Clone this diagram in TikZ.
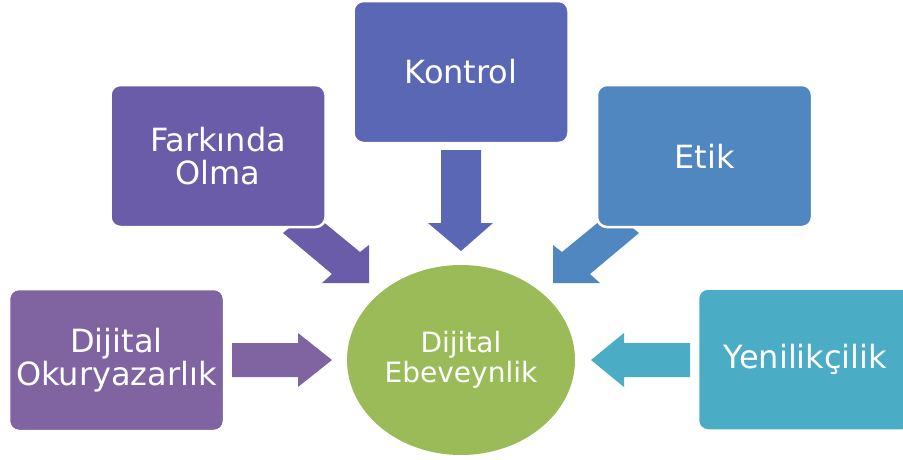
\documentclass[tikz,border=0pt]{standalone}
\usepackage{fontspec}
\setmainfont{DejaVu Sans}
\usetikzlibrary{shapes.geometric}
\definecolor{cOkur}{HTML}{8064A2}
\definecolor{cFark}{HTML}{6A5CA8}
\definecolor{cKont}{HTML}{5A67B4}
\definecolor{cEtik}{HTML}{5087C0}
\definecolor{cYeni}{HTML}{4BACC6}
\definecolor{cCore}{HTML}{9BBB59}
\begin{document}
\begin{tikzpicture}[x=1pt,y=-1pt,
  box/.style={rectangle, rounded corners=10pt, draw=white, line width=2.5pt,
    minimum width=215pt, minimum height=142pt, inner sep=0pt,
    text=white, align=center, font=\fontsize{32}{33}\selectfont},
  core/.style={ellipse, fill=cCore,
    minimum width=228pt, minimum height=190pt, inner sep=0pt,
    text=white, align=center, font=\fontsize{28}{30}\selectfont}]
\useasboundingbox (0,0) rectangle (903,459);

% block arrows (drawn first so the boxes sit on top of their tails)
\fill[cOkur] (232,343) -- (298,343) -- (298,333) -- (332,360) -- (298,387)
  -- (298,377) -- (232,377) -- cycle;
\fill[cYeni] (690,343) -- (624,343) -- (624,333) -- (591,360) -- (624,387)
  -- (624,377) -- (690,377) -- cycle;
\fill[cKont] (441,150) -- (481,150) -- (481,223) -- (493,223) -- (461,251)
  -- (428,223) -- (441,223) -- cycle;
\fill[cFark] (310,211) -- (360,252) -- (369,245) -- (369,283) -- (322,283)
  -- (332,274) -- (283,233) -- cycle;
\fill[cEtik] (612,211) -- (562,252) -- (553,245) -- (553,283) -- (600,283)
  -- (590,274) -- (639,233) -- cycle;

% outer boxes
\node[box, fill=cOkur] (okur) at (116.5,360) {Dijital\\Okuryazarlık};
\node[box, fill=cFark] (fark) at (218,156) {Farkında\\Olma};
\node[box, fill=cKont] (kont) at (461,72) {Kontrol};
\node[box, fill=cEtik] (etik) at (704.5,156) {Etik};
\node[box, fill=cYeni] (yeni) at (805.5,359.5) {Yenilikçilik};

% centre
\node[core] (core) at (461,360) {Dijital\\Ebeveynlik};
\end{tikzpicture}
\end{document}
